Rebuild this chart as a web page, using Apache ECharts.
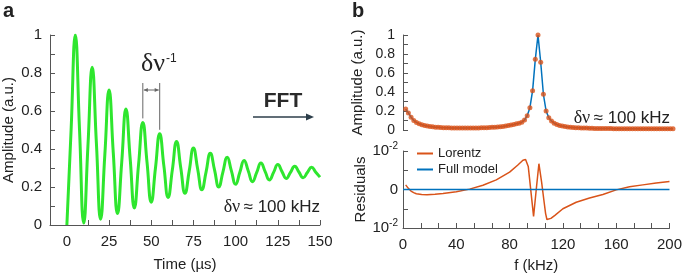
<!DOCTYPE html>
<html>
<head>
<meta charset="utf-8">
<script src="https://cdn.jsdelivr.net/npm/echarts@6/dist/echarts.min.js"></script>
<style>
  html, body { margin: 0; padding: 0; background: #fff; }
  #chart { width: 685px; height: 277px; }
</style>
</head>
<body>
<div id="chart"></div>
<script>
// panel a: time trace
const timeUs = [0, 2.5, 5, 7.5, 10, 12.5, 15, 17.5, 20, 22.5, 25, 27.5, 30, 32.5, 35, 37.5, 40, 42.5, 45, 47.5,
  50, 52.5, 55, 57.5, 60, 62.5, 65, 67.5, 70, 72.5, 75, 77.5, 80, 82.5, 85, 87.5, 90, 92.5, 95, 97.5,
  100, 102.5, 105, 107.5, 110, 112.5, 115, 117.5, 120, 122.5, 125, 127.5, 130, 132.5, 135, 137.5, 140, 142.5, 145, 147.5, 150];
const amplitude = [0, 0.50, 1.00, 0.50, 0.01, 0.42, 0.83, 0.43, 0.03, 0.37, 0.71, 0.38, 0.06, 0.33, 0.61, 0.35, 0.09, 0.32, 0.54, 0.33,
  0.12, 0.30, 0.48, 0.31, 0.145, 0.29, 0.44, 0.30, 0.167, 0.285, 0.405, 0.295, 0.185, 0.28, 0.378, 0.29, 0.20, 0.28, 0.356, 0.285,
  0.214, 0.277, 0.34, 0.284, 0.228, 0.277, 0.326, 0.281, 0.237, 0.277, 0.318, 0.281, 0.245, 0.277, 0.309, 0.279, 0.249, 0.276, 0.304, 0.278, 0.252];
const timeLabels = [0, 25, 50, 75, 100, 125, 150];
const timeTicks = [0, 12.5, 25, 37.5, 50, 62.5, 75, 87.5, 100, 112.5, 125, 137.5, 150];

// panel b: spectrum
const freqKHz = [2, 4, 6, 8, 10, 12, 14, 16, 18, 20, 22, 24, 26, 28, 30, 32, 34, 36, 38, 40,
  42, 44, 46, 48, 50, 52, 54, 56, 58, 60, 62, 64, 66, 68, 70, 72, 74, 76, 78, 80,
  82, 84, 86, 88, 90, 92, 94, 96, 98, 100, 102, 104, 106, 108, 110, 112, 114, 116, 118, 120,
  122, 124, 126, 128, 130, 132, 134, 136, 138, 140, 142, 144, 146, 148, 150, 152, 154, 156, 158, 160,
  162, 164, 166, 168, 170, 172, 174, 176, 178, 180, 182, 184, 186, 188, 190, 192, 194, 196, 198, 200];
const spectrum = [0.22, 0.18, 0.135, 0.10, 0.08, 0.065, 0.055, 0.047, 0.041, 0.037, 0.033, 0.030, 0.028, 0.026, 0.025, 0.024, 0.023, 0.022, 0.022, 0.021,
  0.021, 0.021, 0.021, 0.021, 0.021, 0.021, 0.022, 0.022, 0.023, 0.024, 0.025, 0.026, 0.028, 0.030, 0.032, 0.035, 0.038, 0.042, 0.047, 0.052,
  0.058, 0.066, 0.072, 0.082, 0.105, 0.15, 0.235, 0.414, 0.744, 1.0, 0.713, 0.376, 0.20, 0.13, 0.095, 0.072, 0.058, 0.048, 0.041, 0.036,
  0.032, 0.029, 0.027, 0.025, 0.023, 0.022, 0.021, 0.020, 0.019, 0.018, 0.017, 0.017, 0.016, 0.016, 0.015, 0.015, 0.015, 0.014, 0.014, 0.014,
  0.014, 0.013, 0.013, 0.013, 0.013, 0.013, 0.013, 0.012, 0.012, 0.012, 0.012, 0.012, 0.012, 0.012, 0.012, 0.012, 0.012, 0.012, 0.012, 0.012];

// residuals, in units of 1e-2
const resFreq = [2, 4, 6, 8, 10, 14, 18, 24, 30, 40, 50, 60, 70, 80, 86, 90, 92, 94, 96, 98,
  100, 102, 104, 106, 107, 108, 109, 111, 114, 120, 130, 140, 150, 160, 170, 180, 190, 200];
const resLorentz = [0.12, 0.03, -0.04, -0.08, -0.11, -0.13, -0.135, -0.125, -0.105, -0.06, 0.01, 0.11, 0.25, 0.45, 0.63, 0.76, 0.78, 0.60, -0.05, -0.70,
  0.0, 0.67, 0.20, -0.35, -0.62, -0.78, -0.79, -0.75, -0.67, -0.50, -0.33, -0.22, -0.13, -0.01, 0.07, 0.12, 0.17, 0.21];
const fullFreq = [0, 50, 100, 150, 200];
const resFull = [0, 0, 0, 0, 0];

const GREEN = '#2ee62e';
const ORANGE = '#D95319';
const BLUE = '#0072BD';
const AXIS = '#555';
const TXT = '#222';
const SANS = 'Liberation Sans, Arial, sans-serif';
const SERIF = 'Liberation Serif, Times New Roman, serif';

const zip = (xs, ys) => xs.map((x, i) => [x, ys[i]]);

function baseAxis(extra) {
  return Object.assign({
    type: 'value',
    splitLine: { show: false },
    axisLine: { show: true, onZero: false, lineStyle: { color: AXIS, width: 1 } },
    axisTick: { show: true, inside: true, length: 5, lineStyle: { color: AXIS } },
    minorTick: { show: false },
    axisLabel: { color: TXT, fontSize: 15, fontFamily: SANS, margin: 8 },
    nameTextStyle: { color: TXT, fontSize: 15, fontFamily: SANS },
    nameLocation: 'middle'
  }, extra);
}

const chart = echarts.init(document.getElementById('chart'));

const option = {
  animation: false,
  textStyle: { fontFamily: SANS },
  grid: [
    { left: 50, right: 365, top: 35, bottom: 49 },
    { left: 403, right: 12, top: 35, bottom: 147 },
    { left: 403, right: 12, top: 151, bottom: 49 }
  ],
  legend: {
    data: ['Lorentz', 'Full model'],
    orient: 'vertical',
    left: 412,
    top: 142,
    itemWidth: 16,
    itemHeight: 2,
    itemGap: 3,
    icon: 'rect',
    textStyle: { color: TXT, fontSize: 13, fontFamily: SANS }
  },
  xAxis: [
    baseAxis({
      gridIndex: 0, min: -10, max: 150,
      axisTick: { show: true, inside: true, length: 5, lineStyle: { color: AXIS }, customValues: timeTicks },
      axisLabel: { color: TXT, fontSize: 15, fontFamily: SANS, margin: 9, customValues: timeLabels },
      name: 'Time (µs)', nameGap: 32
    }),
    baseAxis({
      gridIndex: 1, min: 0, max: 200, show: false
    }),
    baseAxis({
      gridIndex: 2, min: 0, max: 200, interval: 40,
      minorTick: { show: true, splitNumber: 3, length: 5, lineStyle: { color: AXIS } },
      axisLabel: { color: TXT, fontSize: 15, fontFamily: SANS, margin: 9 },
      name: 'f (kHz)', nameGap: 30
    })
  ],
  yAxis: [
    baseAxis({
      gridIndex: 0, min: 0, max: 1, interval: 0.2,
      minorTick: { show: true, splitNumber: 2, length: 5, lineStyle: { color: AXIS } },
      name: 'Amplitude (a.u.)', nameGap: 34
    }),
    baseAxis({
      gridIndex: 1, min: 0, max: 1, interval: 0.2,
      minorTick: { show: true, splitNumber: 2, length: 5, lineStyle: { color: AXIS } },
      axisLabel: { color: TXT, fontSize: 14, fontFamily: SANS, margin: 8 },
      name: 'Amplitude (a.u.)', nameGap: 38
    }),
    baseAxis({
      gridIndex: 2, min: -1, max: 1, interval: 1,
      minorTick: { show: true, splitNumber: 2, length: 5, lineStyle: { color: AXIS } },
      axisLabel: {
        color: TXT, fontSize: 15, fontFamily: SANS, margin: 5,
        formatter: v => (v === 0 ? '{b|0}' : '{b|10}{s|-2}'),
        rich: {
          b: { fontSize: 15, color: TXT, fontFamily: SANS },
          s: { fontSize: 10, color: TXT, fontFamily: SANS, padding: [0, 0, 9, 0] }
        }
      },
      name: 'Residuals', nameGap: 35
    })
  ],
  series: [
    {
      type: 'line', xAxisIndex: 0, yAxisIndex: 0,
      data: zip(timeUs, amplitude),
      smooth: 0.5, showSymbol: false,
      lineStyle: { color: GREEN, width: 3 }
    },
    {
      type: 'line', xAxisIndex: 1, yAxisIndex: 1, z: 2,
      data: zip(freqKHz, spectrum),
      showSymbol: false,
      lineStyle: { color: BLUE, width: 1.5 }
    },
    {
      type: 'scatter', xAxisIndex: 1, yAxisIndex: 1, z: 3,
      data: zip(freqKHz, spectrum),
      symbolSize: 5,
      itemStyle: { color: ORANGE }
    },
    {
      name: 'Lorentz', type: 'line', xAxisIndex: 2, yAxisIndex: 2,
      data: zip(resFreq, resLorentz),
      showSymbol: false,
      itemStyle: { color: ORANGE },
      lineStyle: { color: ORANGE, width: 1.5 }
    },
    {
      name: 'Full model', type: 'line', xAxisIndex: 2, yAxisIndex: 2,
      data: zip(fullFreq, resFull),
      showSymbol: false,
      itemStyle: { color: BLUE },
      lineStyle: { color: BLUE, width: 1.5 }
    }
  ]
};

chart.setOption(option);

// annotations; the period bracket is placed through the axis scales
const p45 = chart.convertToPixel({ gridIndex: 0 }, [45, 0.54]);
const p55 = chart.convertToPixel({ gridIndex: 0 }, [55, 0.48]);
const bracketTop = 83;
const bracketY = 90;
const gray = '#666';

chart.setOption({
  graphic: [
    { type: 'text', left: 3, top: 1, style: { text: 'a', font: 'bold 20px ' + SANS, fill: '#222' } },
    { type: 'text', left: 352, top: 1, style: { text: 'b', font: 'bold 20px ' + SANS, fill: '#222' } },
    { type: 'text', x: 283, y: 101, style: { text: 'FFT', font: 'bold 21px ' + SANS, fill: '#2a2a2a', align: 'center', verticalAlign: 'middle' } },
    { type: 'line', shape: { x1: 253, y1: 117, x2: 309, y2: 117 }, style: { stroke: '#2c3e4a', lineWidth: 1.5 } },
    { type: 'polygon', shape: { points: [[314, 117], [306, 113.5], [306, 120.5]] }, style: { fill: '#2c3e4a' } },
    // delta nu ^-1
    { type: 'line', shape: { x1: p45[0], y1: bracketTop, x2: p45[0], y2: p45[1] - 4 }, style: { stroke: gray, lineWidth: 1 } },
    { type: 'line', shape: { x1: p55[0], y1: bracketTop, x2: p55[0], y2: p55[1] - 4 }, style: { stroke: gray, lineWidth: 1 } },
    { type: 'line', shape: { x1: p45[0] + 1, y1: bracketY, x2: p55[0] - 1, y2: bracketY }, style: { stroke: gray, lineWidth: 1 } },
    { type: 'polygon', shape: { points: [[p45[0] + 1, bracketY], [p45[0] + 5, bracketY - 2], [p45[0] + 5, bracketY + 2]] }, style: { fill: gray } },
    { type: 'polygon', shape: { points: [[p55[0] - 1, bracketY], [p55[0] - 5, bracketY - 2], [p55[0] - 5, bracketY + 2]] }, style: { fill: gray } },
    { type: 'text', x: 141, y: 77, style: { text: 'δν', font: '26px ' + SERIF, fill: '#222', verticalAlign: 'bottom' } },
    { type: 'text', x: 166, y: 53, style: { text: '-1', font: '12px ' + SANS, fill: '#222' } },
    // delta nu ~ 100 kHz
    {
      type: 'text', x: 320, y: 207,
      style: {
        text: '{g|δν} {s|≈ 100 kHz}', align: 'right', verticalAlign: 'middle',
        rich: { g: { font: '18px ' + SERIF, fill: '#222' }, s: { font: '17px ' + SANS, fill: '#222' } }
      }
    },
    {
      type: 'text', x: 670, y: 118,
      style: {
        text: '{g|δν} {s|≈ 100 kHz}', align: 'right', verticalAlign: 'middle',
        rich: { g: { font: '18px ' + SERIF, fill: '#222' }, s: { font: '17px ' + SANS, fill: '#222' } }
      }
    }
  ]
});
</script>
</body>
</html>
